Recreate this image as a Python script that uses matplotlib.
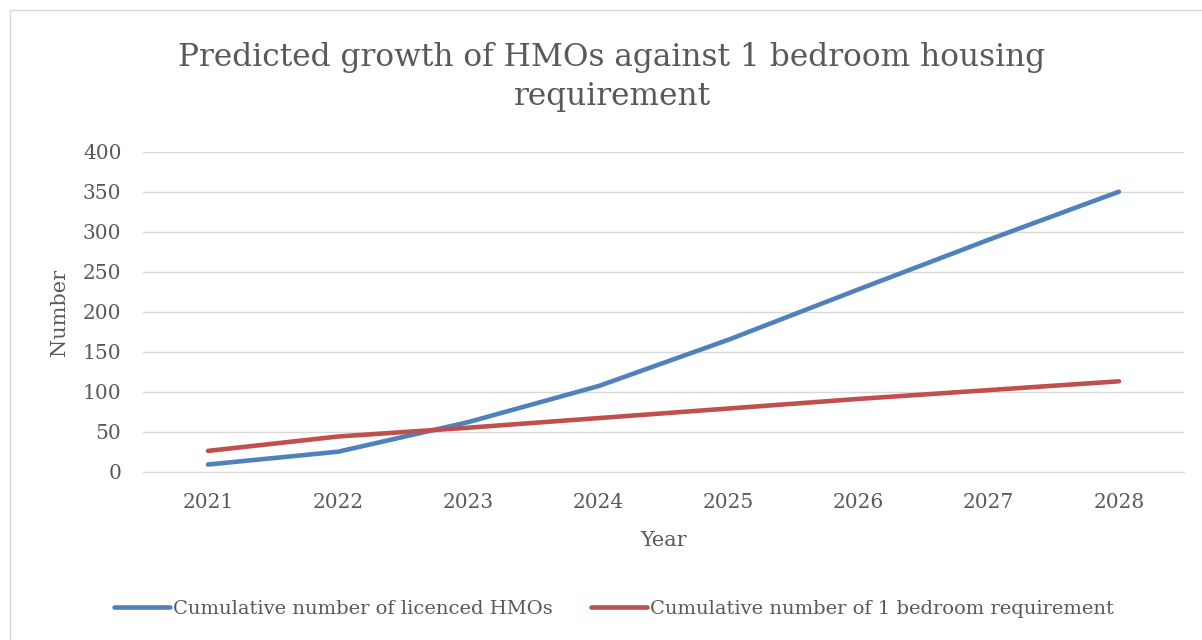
import matplotlib
matplotlib.use("Agg")
import matplotlib.pyplot as plt
from matplotlib.patches import Rectangle
from matplotlib.lines import Line2D

years = ["2021", "2022", "2023", "2024", "2025", "2026", "2027", "2028"]
hmos = [9, 25, 62, 107, 165, 228, 290, 350]
one_bed = [26, 44, 55, 67, 79, 91, 102, 113]
yticks = [0, 50, 100, 150, 200, 250, 300, 350, 400]

title = "Predicted growth of HMOs against 1 bedroom housing\nrequirement"
label_hmo = "Cumulative number of licenced HMOs"
label_bed = "Cumulative number of 1 bedroom requirement"

BLUE = "#4F81BD"
RED = "#C0504D"
TXT = "#595959"
GRID = "#D9D9D9"
FONT = "DejaVu Serif"

W, H = 1202, 640
fig = plt.figure(figsize=(W / 100, H / 100), dpi=100)
plt.rcParams["font.family"] = FONT

# chart border
fig.patches.append(Rectangle((10 / W, -0.01), (W - 10) / W + 0.01, (H - 10) / H + 0.01,
                             transform=fig.transFigure, fill=False,
                             edgecolor=GRID, linewidth=1.0))

ax = fig.add_axes([143 / W, 1 - 471.7 / H, (1184 - 143) / W, 320 / H])
x = list(range(len(years)))
ax.plot(x, hmos, color=BLUE, lw=3.3, solid_capstyle="round", solid_joinstyle="round", zorder=3)
ax.plot(x, one_bed, color=RED, lw=3.3, solid_capstyle="round", solid_joinstyle="round", zorder=3)

ax.set_xlim(-0.5, len(years) - 0.5)
ax.set_ylim(0, 400)
ax.set_yticks(yticks)
ax.set_yticklabels([str(v) for v in yticks])
ax.set_xticks(x)
ax.set_xticklabels(years)
ax.grid(axis="y", color=GRID, lw=1.0)
ax.set_axisbelow(True)
for s in ["top", "right", "left"]:
    ax.spines[s].set_visible(False)
ax.spines["bottom"].set_color(GRID)
ax.tick_params(axis="both", length=0, colors=TXT, labelsize=14.5)
ax.tick_params(axis="y", pad=15.5)
ax.tick_params(axis="x", pad=15.5)
for lab in ax.get_xticklabels() + ax.get_yticklabels():
    lab.set_color(TXT)

fig.text(612 / W, 1 - 77 / H, title, ha="center", va="center", fontsize=22.5,
         color=TXT, linespacing=1.32)
fig.text(60 / W, 1 - 312 / H, "Number", rotation=90, ha="center", va="center",
         fontsize=15, color=TXT)
fig.text(664 / W, 1 - 541 / H, "Year", ha="center", va="center", fontsize=15, color=TXT)

handles = [Line2D([], [], color=BLUE, lw=3.3, solid_capstyle="round"),
           Line2D([], [], color=RED, lw=3.3, solid_capstyle="round")]
fig.legend(handles, [label_hmo, label_bed], loc="center", bbox_to_anchor=(614 / W, 1 - 609 / H),
           ncol=2, frameon=False, fontsize=14, handlelength=2.9, handletextpad=0.15,
           columnspacing=1.95, labelcolor=TXT)

fig.savefig("out.png", dpi=100, facecolor="white")
